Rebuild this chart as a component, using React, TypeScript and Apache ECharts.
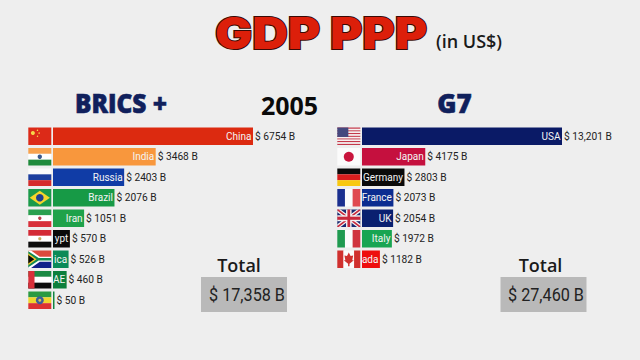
import React, { useEffect, useRef } from "react";
import * as echarts from "echarts";

const bricsCountries = ["China", "India", "Russia", "Brazil", "Iran", "Egypt", "South Africa", "UAE", "Ethiopia"];
const bricsBarLabels = ["China", "India", "Russia", "Brazil", "Iran", "ypt", "ica", "AE", ""];
const bricsValues = [6754, 3468, 2403, 2076, 1051, 570, 526, 460, 50];
const bricsColors = ["#dc2a10", "#f8973d", "#103ca6", "#179a46", "#1fa24a", "#0a0a0a", "#0b8a58", "#0c7f3b", "#12853f"];

const g7Countries = ["USA", "Japan", "Germany", "France", "UK", "Italy", "Canada"];
const g7BarLabels = ["USA", "Japan", "Germany", "France", "UK", "Italy", "ada"];
const g7Values = [13201, 4175, 2803, 2073, 2054, 1972, 1182];
const g7Colors = ["#0a1a66", "#c5103e", "#0a0a0a", "#0b2c90", "#0a2070", "#18a552", "#ee0e0e"];

const fmt = (v: number) => "$ " + (v >= 10000 ? v.toLocaleString("en-US") : String(v)) + " B";

const W = 23;
const H = 17.5;

const r = (x: number, y: number, w: number, h: number, fill: string) => ({
  type: "rect",
  shape: { x: x * W, y: y * H, width: w * W, height: h * H },
  style: { fill },
});
const c = (x: number, y: number, rad: number, fill: string) => ({
  type: "circle",
  shape: { cx: x * W, cy: y * H, r: rad },
  style: { fill },
});
const p = (pts: number[][], fill: string) => ({
  type: "polygon",
  shape: { points: pts.map(([x, y]) => [x * W, y * H]) },
  style: { fill },
});
const hBands = (cols: string[]) => cols.map((col, i) => r(0, i / cols.length, 1, 1 / cols.length, col));
const vBands = (cols: string[]) => cols.map((col, i) => r(i / cols.length, 0, 1 / cols.length, 1, col));

const flagShapes: Record<string, () => any[]> = {
  China: () => [r(0, 0, 1, 1, "#dc2a18"), c(0.2, 0.32, 2, "#f6d84a"), c(0.4, 0.16, 0.7, "#f6d84a"), c(0.47, 0.32, 0.7, "#f6d84a"), c(0.4, 0.5, 0.7, "#f6d84a")],
  India: () => [...hBands(["#f8a24e", "#ffffff", "#1f8a3c"]), c(0.5, 0.5, 2.2, "#3a5a8c")],
  Russia: () => hBands(["#fafafa", "#1c3e9e", "#d42a2a"]),
  Brazil: () => [r(0, 0, 1, 1, "#1a9a4a"), p([[0.5, 0.1], [0.94, 0.5], [0.5, 0.9], [0.06, 0.5]], "#f5d52a"), c(0.5, 0.5, 3.8, "#1f3f8f")],
  Iran: () => [...hBands(["#2ba050", "#ffffff", "#d8303a"]), c(0.5, 0.5, 1.7, "#b8404a")],
  Egypt: () => [...hBands(["#d42a35", "#ffffff", "#0d0d0d"]), c(0.5, 0.5, 1.6, "#c8a860")],
  "South Africa": () => [
    r(0, 0, 1, 0.5, "#dd4a3c"),
    r(0, 0.5, 1, 0.5, "#12208a"),
    p([[0, 0], [0.12, 0], [0.5, 0.36], [1, 0.36], [1, 0.64], [0.5, 0.64], [0.12, 1], [0, 1]], "#ffffff"),
    p([[0, 0.04], [0.45, 0.43], [1, 0.43], [1, 0.57], [0.45, 0.57], [0, 0.96]], "#118a50"),
    p([[0, 0.16], [0.36, 0.5], [0, 0.84]], "#f2c52a"),
    p([[0, 0.26], [0.26, 0.5], [0, 0.74]], "#0a0a0a"),
  ],
  UAE: () => [...hBands(["#1c8a44", "#ffffff", "#0d0d0d"]), r(0, 0, 0.27, 1, "#d8303a")],
  Ethiopia: () => [...hBands(["#2a9a42", "#f0d62e", "#dc3232"]), c(0.5, 0.5, 4, "#3a5f9a"), c(0.5, 0.5, 1.5, "#d8c850")],
  USA: () => [
    ...Array.from({ length: 7 }, (_, i) => r(0, (i * 2) / 13, 1, 1 / 13, "#c4384a")),
    ...Array.from({ length: 6 }, (_, i) => r(0, (i * 2 + 1) / 13, 1, 1 / 13, "#f6f0f0")),
    r(0, 0, 0.48, 0.54, "#45487e"),
  ],
  Japan: () => [r(0, 0, 1, 1, "#fbfbfb"), c(0.5, 0.5, 5, "#c8143c")],
  Germany: () => hBands(["#0a0a0a", "#d81e1e", "#f8c810"]),
  France: () => vBands(["#1a2f8f", "#fbfbfb", "#e04a50"]),
  UK: () => [
    r(0, 0, 1, 1, "#1a2a70"),
    p([[0, 0], [0.14, 0], [1, 0.84], [1, 1], [0.86, 1], [0, 0.16]], "#f4f4f4"),
    p([[1, 0], [0.86, 0], [0, 0.84], [0, 1], [0.14, 1], [1, 0.16]], "#f4f4f4"),
    p([[0, 0], [0.06, 0], [1, 0.94], [1, 1], [0.94, 1], [0, 0.06]], "#c8283c"),
    p([[1, 0], [0.94, 0], [0, 0.94], [0, 1], [0.06, 1], [1, 0.06]], "#c8283c"),
    r(0.38, 0, 0.24, 1, "#f4f4f4"),
    r(0, 0.33, 1, 0.34, "#f4f4f4"),
    r(0.44, 0, 0.12, 1, "#c8283c"),
    r(0, 0.41, 1, 0.18, "#c8283c"),
  ],
  Italy: () => vBands(["#1f9a50", "#fbfbfb", "#d0343f"]),
  Canada: () => [
    r(0, 0, 0.27, 1, "#d0302e"),
    r(0.27, 0, 0.46, 1, "#fbfbfb"),
    r(0.73, 0, 0.27, 1, "#d0302e"),
    p([[0.5, 0.12], [0.58, 0.32], [0.69, 0.28], [0.65, 0.55], [0.72, 0.55], [0.53, 0.75], [0.53, 0.9], [0.47, 0.9], [0.47, 0.75], [0.28, 0.55], [0.35, 0.55], [0.31, 0.28], [0.42, 0.32]], "#d0302e"),
  ],
};

const panel = (
  gridIndex: number,
  countries: string[],
  barLabels: string[],
  values: number[],
  colors: string[],
) => [
  {
    type: "bar",
    xAxisIndex: gridIndex,
    yAxisIndex: gridIndex,
    barWidth: 17.5,
    data: values.map((value, i) => ({ value, itemStyle: { color: colors[i] } })),
    label: {
      show: true,
      position: "insideRight",
      distance: 1.5,
      color: "#f4f4f4",
      fontFamily: "Roboto",
      fontSize: 10,
      formatter: (d: any) => barLabels[d.dataIndex],
    },
  },
  {
    type: "bar",
    xAxisIndex: gridIndex,
    yAxisIndex: gridIndex,
    barWidth: 17.5,
    barGap: "-100%",
    itemStyle: { color: "transparent" },
    data: values,
    label: {
      show: true,
      position: "right",
      distance: 2,
      color: "#222222",
      fontFamily: "Roboto",
      fontSize: 10.2,
      formatter: (d: any) => fmt(d.value),
    },
  },
  {
    type: "custom",
    xAxisIndex: gridIndex,
    yAxisIndex: gridIndex,
    clip: false,
    data: countries.map((name, i) => [0, i, name]),
    renderItem: (params: any, api: any) => {
      const pt = api.coord([0, params.dataIndex]);
      return {
        type: "group",
        x: pt[0] - 24.7,
        y: pt[1] - H / 2,
        children: flagShapes[countries[params.dataIndex]](),
      };
    },
  },
];

const heading = (x: number, y: number, text: string, font: any, fill: string, extra: any = {}, scaleX = 1) => ({
  type: "text",
  x,
  y,
  scaleX,
  style: { text, fill, textAlign: "center", textVerticalAlign: "middle", ...font, ...extra },
});

const totalBox = (x: number, width: number, total: string, labelX: number, valueX: number) => [
  { type: "rect", shape: { x, y: 277, width, height: 35 }, style: { fill: "#b9b9b9" } },
  heading(valueX, 294.5, total, { fontFamily: "Roboto", fontSize: 18 }, "#222222", {}, 0.9),
  heading(labelX, 265, "Total", { fontFamily: "Open Sans", fontSize: 18, fontWeight: 600 }, "#1a1a1a"),
];

export default function App() {
  const ref = useRef<HTMLDivElement>(null);
  useEffect(() => {
    document.body.style.margin = "0";
    const chart = echarts.init(ref.current!, undefined, { renderer: "svg" });
    chart.setOption({
      animation: false,
      backgroundColor: "#eeeeee",
      grid: [
        { left: 53, top: 126, width: 200, height: 184.5 },
        { left: 362, top: 126, width: 200, height: 143.5 },
      ],
      xAxis: [
        { type: "value", gridIndex: 0, min: 0, max: bricsValues[0], show: false },
        { type: "value", gridIndex: 1, min: 0, max: g7Values[0], show: false },
      ],
      yAxis: [
        { type: "category", gridIndex: 0, inverse: true, data: bricsCountries, show: false },
        { type: "category", gridIndex: 1, inverse: true, data: g7Countries, show: false },
      ],
      series: [
        ...panel(0, bricsCountries, bricsBarLabels, bricsValues, bricsColors),
        ...panel(1, g7Countries, g7BarLabels, g7Values, g7Colors),
      ],
      graphic: [
        heading(321, 33, "GDP PPP", { fontFamily: "Inter", fontSize: 44, fontWeight: 900 }, "#dc1f0a", { stroke: "#3a0a05", lineWidth: 2 }, 1.12),
        heading(469, 41, "(in US$)", { fontFamily: "Open Sans", fontSize: 18, fontWeight: 600 }, "#1a1a1a"),
        heading(121, 103, "BRICS +", { fontFamily: "Open Sans", fontSize: 26, fontWeight: 800 }, "#10205c", { stroke: "#10205c", lineWidth: 0.6 }, 0.94),
        heading(289.5, 105, "2005", { fontFamily: "Open Sans", fontSize: 25, fontWeight: 700 }, "#0a0a0a"),
        heading(454.5, 103, "G7", { fontFamily: "Open Sans", fontSize: 26, fontWeight: 800 }, "#10205c", { stroke: "#10205c", lineWidth: 0.6 }),
        ...totalBox(201, 86, "$ 17,358 B", 239, 247),
        ...totalBox(500.5, 86, "$ 27,460 B", 540.5, 546),
      ],
    });
    return () => chart.dispose();
  }, []);
  return <div ref={ref} style={{ position: "absolute", left: 0, top: 0, width: 640, height: 360 }} />;
}
